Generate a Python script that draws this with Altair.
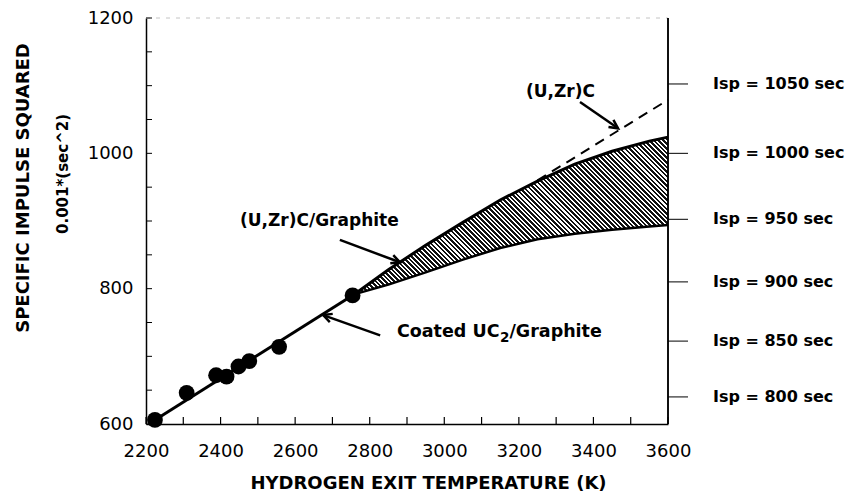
import math
import altair as alt
import pandas as pd

# ---------------- data ----------------
dot_temp = [2224, 2309, 2388, 2416, 2448, 2477, 2557, 2754]
dot_isq = [606, 646, 672, 670, 685, 693, 714, 790]

line_temp = [2224, 2760]
line_isq = [606, 792]

band_temp = [2760, 2850, 2950, 3050, 3150, 3250, 3350, 3450, 3550, 3600]
band_upper = [792, 828, 864, 898, 931, 959, 984, 1003, 1018, 1024]
band_lower = [792, 806, 824, 843, 860, 873, 881, 887, 892, 894]

dash_temp = [3250, 3600]
dash_isq = [960, 1079]

isp_sec = [800, 850, 900, 950, 1000, 1050]
isp_sq = [v * v / 1000 for v in isp_sec]
isp_labels = [f"Isp = {v} sec" for v in isp_sec]

x_labels = [2200, 2400, 2600, 2800, 3000, 3200, 3400, 3600]
y_labels = [600, 800, 1000, 1200]
x_minor = list(range(2200, 3601, 100))
y_minor = list(range(600, 1201, 50))

arrow_names = ["uzrc", "graphite", "coated"]
arrow_x_tail = [3364, 2720, 2828]
arrow_y_tail = [1076, 872, 731]
arrow_x_head = [3466, 2881, 2675]
arrow_y_head = [1037, 839, 761]

ann_text = ["(U,Zr)C", "(U,Zr)C/Graphite", "Coated UC", "2", "/Graphite"]
ann_x = [3404, 2452, 2873, 2873, 2873]
ann_y = [1091, 900, 736, 736, 736]

# ---------------- layout ----------------
W, H = 522, 406
XD = [2200, 3600]
YD = [600, 1200]
FONT = "DejaVu Sans"

xs = alt.Scale(domain=XD, nice=False, zero=False)
ys = alt.Scale(domain=YD, nice=False, zero=False)

x_axis = alt.Axis(
    values=x_labels, format="d", ticks=False, grid=False,
    labelPadding=18, labelFont=FONT, labelFontSize=18, labelColor="black",
    labelFlush=False, labelOverlap=False,
    domainColor="black", domainWidth=1.5,
    title="HYDROGEN EXIT TEMPERATURE (K)", titleFont=FONT, titleFontSize=18,
    titleFontWeight="bold", titleColor="black",
    titleX=282, titleY=59, titleBaseline="middle", titleAlign="center",
)
y_axis = alt.Axis(
    values=y_labels, format="d", ticks=False, grid=False,
    labelPadding=13, labelFont=FONT, labelFontSize=18, labelColor="black",
    labelFlush=False, labelOverlap=False,
    domainColor="black", domainWidth=1.5, title=None,
)


def X(f, **kw):
    return alt.X(f, type="quantitative", scale=xs, axis=x_axis, **kw)


def Y(f, **kw):
    return alt.Y(f, type="quantitative", scale=ys, axis=y_axis, **kw)


# ---------------- tables ----------------
dots = pd.DataFrame({"t": dot_temp, "v": dot_isq})
mainline = pd.DataFrame({"t": line_temp, "v": line_isq})
band = pd.DataFrame({"t": band_temp, "up": band_upper, "lo": band_lower})
dash = pd.DataFrame({"t": dash_temp, "v": dash_isq})
right_df = pd.DataFrame({"sq": isp_sq, "label": isp_labels})

px_x = W / (XD[1] - XD[0])
px_y = H / (YD[1] - YD[0])
angles = []
for xt, yt, xh, yh in zip(arrow_x_tail, arrow_y_tail, arrow_x_head, arrow_y_head):
    dx = (xh - xt) * px_x
    dy = -(yh - yt) * px_y
    angles.append((math.degrees(math.atan2(dx, -dy)) + 360) % 360)
arrows = pd.DataFrame({
    "name": arrow_names, "xt": arrow_x_tail, "yt": arrow_y_tail,
    "xh": arrow_x_head, "yh": arrow_y_head, "ang": angles,
})

# hatch pattern for the band (diagonal stripes through a hard-stop gradient)
bw = (band_temp[-1] - band_temp[0]) * px_x
bh = (max(band_upper) - min(band_lower)) * px_y
r = bh / bw
d = (1.0, -r)
tmax = 1.0 + r
s = tmax / (1.0 + r * r)
N = int(round((bw + bh) / math.sqrt(2) / 3.3))
stops = []
for i in range(N):
    a = i / N
    b = (i + 0.55) / N
    c = (i + 1) / N
    stops += [
        alt.GradientStop(color="#111111", offset=a),
        alt.GradientStop(color="#111111", offset=b),
        alt.GradientStop(color="#ffffff", offset=b),
        alt.GradientStop(color="#ffffff", offset=c),
    ]
hatch = alt.LinearGradient(
    gradient="linear", stops=stops,
    x1=0, y1=1, x2=s * d[0], y2=1 + s * d[1],
)

# ---------------- layers ----------------
line_layer = alt.Chart(mainline).mark_line(color="black", strokeWidth=3).encode(
    x=X("t"), y=Y("v")
)
band_layer = alt.Chart(band).mark_area(fill=hatch, opacity=1).encode(
    x=X("t"), y=Y("up"), y2="lo"
)
upper_layer = alt.Chart(band).mark_line(color="black", strokeWidth=3).encode(
    x=X("t"), y=Y("up")
)
lower_layer = alt.Chart(band).mark_line(color="black", strokeWidth=2.5).encode(
    x=X("t"), y=Y("lo")
)
dash_layer = alt.Chart(dash).mark_line(
    color="black", strokeWidth=2, strokeDash=[10, 7]
).encode(x=X("t"), y=Y("v"))

dot_layer = alt.Chart(dots).mark_circle(size=250, color="black", opacity=1).encode(
    x=X("t"), y=Y("v")
)

arrow_lines = alt.Chart(arrows).mark_rule(color="black", strokeWidth=2.5).encode(
    x=X("xt"), y=Y("yt"), x2="xh", y2="yh"
)
arrow_heads = alt.Chart(arrows).mark_point(
    shape="M-0.5,1L0,0L0.5,1", filled=False, size=300,
    color="black", strokeWidth=2.5, opacity=1,
).encode(x=X("xh"), y=Y("yh"), angle=alt.Angle("ang:Q", scale=None))

ann_style = [
    dict(align="right", fontSize=17, dx=0, dy=0),
    dict(align="left", fontSize=17, dx=0, dy=0),
    dict(align="left", fontSize=17.5, dx=0, dy=0),
    dict(align="left", fontSize=13.5, dx=103, dy=6),
    dict(align="left", fontSize=17.5, dx=112.5, dy=0),
]
ann_layers = []
for txt, ax, ay, st in zip(ann_text, ann_x, ann_y, ann_style):
    df = pd.DataFrame({"t": [ax], "v": [ay], "label": [txt]})
    ann_layers.append(
        alt.Chart(df).mark_text(
            font=FONT, fontWeight="bold", color="black", baseline="middle", **st
        ).encode(x=X("t"), y=Y("v"), text="label:N")
    )

# inward minor ticks
ytick_df = pd.DataFrame({"v": y_minor})
ytick_layer = alt.Chart(ytick_df).mark_rule(color="black", strokeWidth=1).encode(
    y=Y("v"), x=alt.value(0), x2=alt.value(6)
)
xtick_df = pd.DataFrame({"t": x_minor})
xtick_layer = alt.Chart(xtick_df).mark_rule(color="black", strokeWidth=1.2).encode(
    x=X("t"), y=alt.value(H), y2=alt.value(H - 7)
)

top_df = pd.DataFrame({"v": [YD[1]]})
top_layer = alt.Chart(top_df).mark_rule(color="#c4c4c4", strokeDash=[4, 6]).encode(
    y=Y("v"), x=alt.value(0), x2=alt.value(W)
)

# right-hand Isp scale (same y scale)
right_domain = alt.Chart(pd.DataFrame({"v": YD})).mark_rule(
    color="black", strokeWidth=1.5
).encode(x=alt.value(W), y=alt.value(0), y2=alt.value(H))
right_ticks = alt.Chart(right_df).mark_rule(color="black", strokeWidth=1).encode(
    y=Y("sq"), x=alt.value(W), x2=alt.value(W + 20)
)
right_text = alt.Chart(right_df).mark_text(
    font=FONT, fontWeight="bold", fontSize=16, color="black",
    align="left", baseline="middle",
).encode(y=Y("sq"), x=alt.value(W + 45), text="label:N")

# y-axis titles (two lines, different sizes)
yt1 = alt.Chart(pd.DataFrame({"label": ["SPECIFIC IMPULSE SQUARED"]})).mark_text(
    font=FONT, fontWeight="bold", fontSize=18, angle=270, color="black",
    align="center", baseline="middle",
).encode(x=alt.value(-122), y=alt.value(170), text="label:N")
yt2 = alt.Chart(pd.DataFrame({"label": ["0.001*(sec^2)"]})).mark_text(
    font=FONT, fontWeight="bold", fontSize=15, angle=270, color="black",
    align="center", baseline="middle",
).encode(x=alt.value(-83), y=alt.value(156), text="label:N")

chart = alt.layer(
    line_layer, top_layer, band_layer, upper_layer, lower_layer, dash_layer,
    dot_layer, arrow_lines, arrow_heads, ytick_layer, xtick_layer,
    right_domain, right_ticks, right_text,
    *ann_layers, yt1, yt2,
).properties(
    width=W, height=H,
    autosize=alt.AutoSizeParams(type="none"),
    padding={"left": 138, "top": 10, "right": 178, "bottom": 67},
    background="white",
).configure_view(stroke=None)

chart.save("out.html", embed_options={"renderer": "svg", "actions": False})
